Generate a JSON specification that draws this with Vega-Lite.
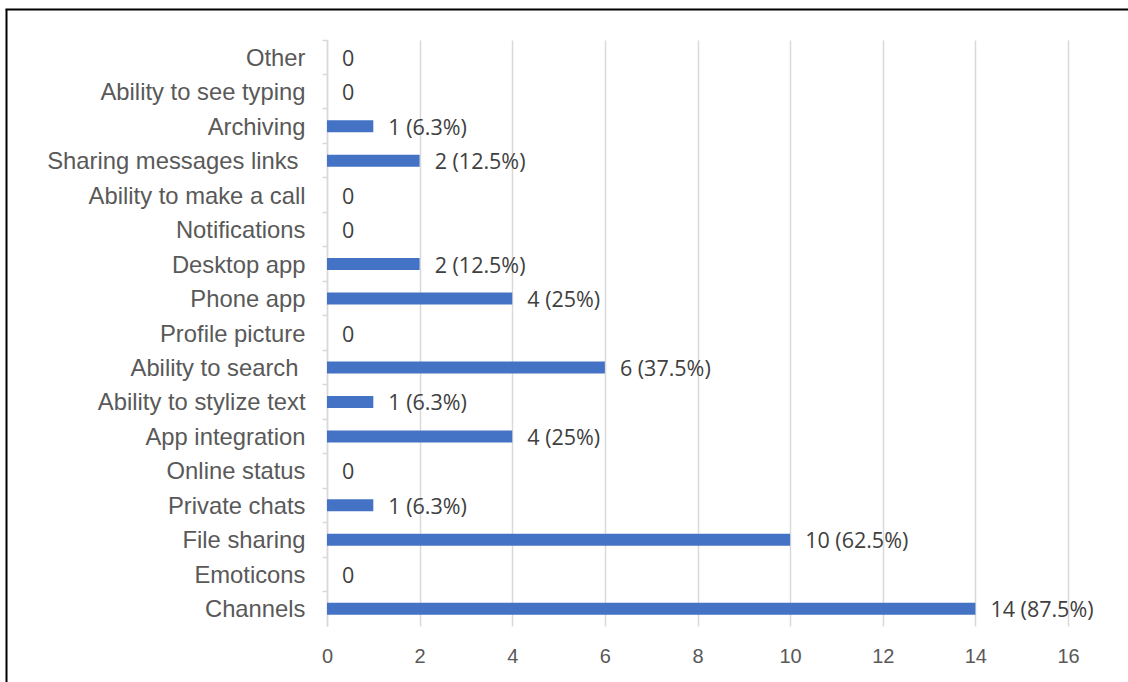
{
  "$schema": "https://vega.github.io/schema/vega-lite/v6.json",
  "width": 741,
  "height": 586,
  "autosize": "none",
  "padding": {"left": 327, "top": 40, "right": 60, "bottom": 56},
  "background": "white",
  "config": {"view": {"stroke": null}},
  "data": {
    "values": [
      {"feature": "Other", "count": 0, "label": "0"},
      {"feature": "Ability to see typing", "count": 0, "label": "0"},
      {"feature": "Archiving", "count": 1, "label": "1 (6.3%)"},
      {"feature": "Sharing messages links", "count": 2, "label": "2 (12.5%)"},
      {"feature": "Ability to make a call", "count": 0, "label": "0"},
      {"feature": "Notifications", "count": 0, "label": "0"},
      {"feature": "Desktop app", "count": 2, "label": "2 (12.5%)"},
      {"feature": "Phone app", "count": 4, "label": "4 (25%)"},
      {"feature": "Profile picture", "count": 0, "label": "0"},
      {"feature": "Ability to search", "count": 6, "label": "6 (37.5%)"},
      {"feature": "Ability to stylize text", "count": 1, "label": "1 (6.3%)"},
      {"feature": "App integration", "count": 4, "label": "4 (25%)"},
      {"feature": "Online status", "count": 0, "label": "0"},
      {"feature": "Private chats", "count": 1, "label": "1 (6.3%)"},
      {"feature": "File sharing", "count": 10, "label": "10 (62.5%)"},
      {"feature": "Emoticons", "count": 0, "label": "0"},
      {"feature": "Channels", "count": 14, "label": "14 (87.5%)"}
    ]
  },
  "layer": [
    {
      "encoding": {
        "y": {
          "field": "feature",
          "type": "nominal",
          "sort": null,
          "scale": {"paddingInner": 0, "paddingOuter": 0},
          "axis": {
            "title": null,
            "domainColor": "#d9d9d9",
            "domainWidth": 1.5,
            "tickColor": "#d9d9d9",
            "tickWidth": 1.5,
            "tickSize": 5,
            "bandPosition": 0,
            "labelFont": "Liberation Sans",
            "labelFontSize": 23.8,
            "labelColor": "#595959",
            "labelOffset": 1.5,
            "labelPadding": {"condition": {"test": "datum.value === 'Sharing messages links' || datum.value === 'Ability to search'", "value": 24}, "value": 17},
            "labelLimit": 400,
            "grid": false
          }
        },
        "x": {
          "field": "count",
          "type": "quantitative",
          "scale": {"domain": [0, 16], "nice": false},
          "axis": {
            "title": null,
            "values": [0, 2, 4, 6, 8, 10, 12, 14, 16],
            "domain": false,
            "ticks": false,
            "grid": true,
            "gridColor": "#d9d9d9",
            "gridWidth": 1.5,
            "labelFont": "Liberation Sans",
            "labelFontSize": 20,
            "labelColor": "#595959",
            "labelPadding": 20,
            "labelOverlap": false,
            "labelFlush": false
          }
        }
      },
      "layer": [
        {"mark": {"type": "bar", "color": "#4472C4", "size": 12}},
        {
          "mark": {"type": "text", "align": "left", "baseline": "middle", "dx": 15, "dy": 2.5, "font": "Open Sans", "fontSize": 21.5, "color": "#404040"},
          "encoding": {"text": {"field": "label"}}
        }
      ]
    },
    {
      "mark": {"type": "point", "opacity": 0},
      "encoding": {
        "x": {
          "field": "count",
          "type": "quantitative",
          "scale": {"domain": [0, 16], "nice": false, "range": [-322, 820]},
          "axis": {"orient": "top", "offset": 31, "title": null, "domainColor": "#000000", "domainWidth": 2, "ticks": false, "labels": false, "grid": false}
        },
        "y": {
          "field": "count",
          "type": "quantitative",
          "scale": {"domain": [0, 16], "nice": false, "range": [700, -31]},
          "axis": {"orient": "left", "offset": 321, "title": null, "domainColor": "#000000", "domainWidth": 2, "ticks": false, "labels": false, "grid": false}
        }
      }
    }
  ],
  "resolve": {"scale": {"x": "independent", "y": "independent"}, "axis": {"x": "independent", "y": "independent"}}
}
